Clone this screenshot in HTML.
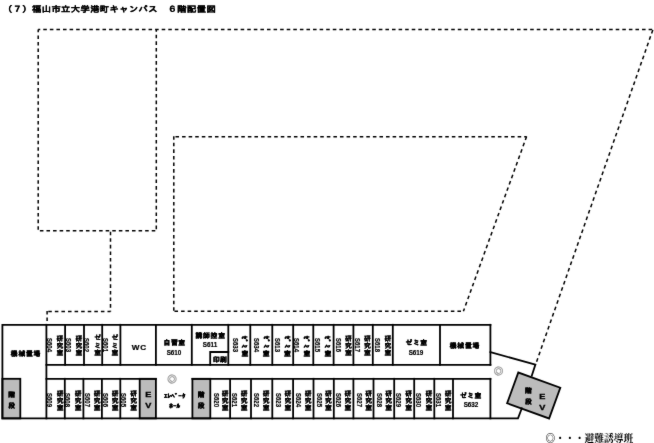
<!DOCTYPE html>
<html lang="ja"><head><meta charset="utf-8"><title>６階配置図</title><style>
html,body{margin:0;padding:0;background:#fff}
#p{filter:url(#soft);position:relative;width:654px;height:443px;overflow:hidden;background:#fff;font-family:"Liberation Sans","IPAGothic","Noto Sans CJK JP",sans-serif;color:#000}
svg{position:absolute;left:0;top:0}
.s{stroke:#000;stroke-width:1.8;fill:none;stroke-linecap:square}
.g{stroke:#000;stroke-width:1.8;fill:#bcbcbc}
.d{stroke:#000;stroke-width:1.5;fill:none}
#p div{position:absolute;white-space:nowrap;line-height:1;transform:translate(-50%,-50%)}
.v{writing-mode:vertical-rl}
.k{font-size:6.8px;font-weight:bold;letter-spacing:.4px;-webkit-text-stroke:.15px #000}
.hw{letter-spacing:1.8px;-webkit-text-stroke:.35px #000}
.c{font-size:7px;font-weight:bold;-webkit-text-stroke:.2px #000;transform:translate(-50%,-50%) scaleY(.86)!important}
.h{font-size:7px}
.b{font-size:6.8px;font-weight:bold;letter-spacing:.8px;padding-left:.8px;-webkit-text-stroke:.3px #000}
.z{letter-spacing:.5px;padding-left:.5px}
.p{letter-spacing:.2px;padding-left:.2px}
.n{font-weight:bold;-webkit-text-stroke:.2px #000;transform:translate(-50%,-50%) scaleX(.9)!important}
.wc{font-weight:bold;letter-spacing:.8px;padding-left:.8px;font-size:7.2px;-webkit-text-stroke:.2px #000;transform:translate(-50%,-50%) scaleX(1.13)!important}
.e{font-size:7.2px;font-weight:bold;-webkit-text-stroke:.3px #000;transform:translate(-50%,-50%) scaleY(.82)!important}
.st{font-size:6.8px;font-weight:bold;letter-spacing:3.7px;-webkit-text-stroke:.3px #000}
.ev{font-size:7.6px;font-weight:bold;letter-spacing:1.7px;text-orientation:upright;-webkit-text-stroke:.35px #000;transform:translate(-50%,-50%) scaleX(1.2)!important}
.ci{font-size:10.6px;color:#999;-webkit-text-stroke:.2px #999}
#t{left:3px;top:4.5px;font-size:9.3px;font-weight:bold;letter-spacing:.39px;-webkit-text-stroke:.2px #000;transform-origin:0 50%;transform:scaleY(.88)!important}
#l{left:545.4px;top:433.5px;font-size:9.75px;font-weight:bold;font-family:"Liberation Serif","Noto Serif CJK SC",serif;transform:none!important}
</style></head><body>
<div id="p">
<svg width="654" height="443" viewBox="0 0 654 443">
<defs><filter id="soft" x="0" y="0" width="100%" height="100%" color-interpolation-filters="sRGB"><feConvolveMatrix order="3" kernelMatrix="0.01 0.06 0.01 0.06 0.72 0.06 0.01 0.06 0.01" edgeMode="duplicate" preserveAlpha="true"/></filter></defs>
<line class="d" x1="38.2" y1="29.4" x2="653" y2="29.4" stroke-dasharray="3.55 3.03" stroke-dashoffset="1.52"/>
<line class="d" x1="38.2" y1="29.4" x2="38.2" y2="230.8" stroke-dasharray="3.55 3.03" stroke-dashoffset="0.6"/>
<line class="d" x1="38.2" y1="230.8" x2="156.3" y2="230.8" stroke-dasharray="3.55 3.03" stroke-dashoffset="4.9"/>
<line class="d" x1="156.3" y1="29.4" x2="156.3" y2="230.8" stroke-dasharray="3.55 3.03" stroke-dashoffset="1.2"/>
<line class="d" x1="110.5" y1="230.8" x2="110.5" y2="311.5" stroke-dasharray="3.55 3.03" stroke-dashoffset="5.67"/>
<line class="d" x1="47.1" y1="311.5" x2="110.5" y2="311.5" stroke-dasharray="3.55 3.03" stroke-dashoffset="5.42"/>
<line class="d" x1="47.1" y1="310.9" x2="47.1" y2="324" stroke-dasharray="3.55 3.03" stroke-dashoffset="0"/>
<line class="d" x1="653" y1="29.4" x2="535.6" y2="364.5" stroke-dasharray="3.7 3.12" stroke-dashoffset="6.29"/>
<line class="d" x1="173.8" y1="136.8" x2="526.6" y2="136.8" stroke-dasharray="3.55 3.03" stroke-dashoffset="4.9"/>
<line class="d" x1="526.6" y1="136.5" x2="463.4" y2="311.3" stroke-dasharray="3.65 3.12" stroke-dashoffset="0"/>
<line class="d" x1="173.8" y1="311.3" x2="463.4" y2="311.3" stroke-dasharray="3.55 3.03" stroke-dashoffset="5.9"/>
<line class="d" x1="173.8" y1="136.2" x2="173.8" y2="311.3" stroke-dasharray="3.55 3.03" stroke-dashoffset="0"/>
<rect class="g" x="2.4" y="378.8" width="17.9" height="39.6"/>
<rect class="g" x="139.7" y="378.8" width="16.2" height="39.6"/>
<rect class="g" x="192.4" y="378.8" width="17.9" height="39.6"/>
<rect class="g" x="0" y="0" width="44.7" height="32.7" transform="translate(518.3 372.5) rotate(20)"/>
<path class="s" d="M490.4 324.8 L2.4 324.8 L2.4 418.4 L518 418.4 L521.8 408.3"/>
<path class="s" d="M490.4 352.2 L535.4 364.6 L531.8 375.6"/>
<line class="s" x1="46.4" y1="324.8" x2="46.4" y2="418.4"/>
<line class="s" x1="46.4" y1="364.8" x2="490.4" y2="364.8"/>
<line class="s" x1="65.1" y1="324.8" x2="65.1" y2="364.8"/>
<line class="s" x1="84" y1="324.8" x2="84" y2="364.8"/>
<line class="s" x1="102.2" y1="324.8" x2="102.2" y2="364.8"/>
<line class="s" x1="120.4" y1="324.8" x2="120.4" y2="364.8"/>
<line class="s" x1="155.9" y1="324.8" x2="155.9" y2="364.8"/>
<line class="s" x1="191.8" y1="324.8" x2="191.8" y2="364.8"/>
<line class="s" x1="228.3" y1="324.8" x2="228.3" y2="364.8"/>
<line class="s" x1="250.3" y1="324.8" x2="250.3" y2="364.8"/>
<line class="s" x1="272.3" y1="324.8" x2="272.3" y2="364.8"/>
<line class="s" x1="293.2" y1="324.8" x2="293.2" y2="364.8"/>
<line class="s" x1="313.3" y1="324.8" x2="313.3" y2="364.8"/>
<line class="s" x1="333.6" y1="324.8" x2="333.6" y2="364.8"/>
<line class="s" x1="353.4" y1="324.8" x2="353.4" y2="364.8"/>
<line class="s" x1="372.8" y1="324.8" x2="372.8" y2="364.8"/>
<line class="s" x1="392.8" y1="324.8" x2="392.8" y2="364.8"/>
<line class="s" x1="440" y1="324.8" x2="440" y2="364.8"/>
<line class="s" x1="490.4" y1="324.8" x2="490.4" y2="364.8"/>
<path class="s" d="M210.2 364.8 L210.2 352 L228.3 352"/>
<line class="s" x1="46.4" y1="378.8" x2="155.9" y2="378.8"/>
<line class="s" x1="192.4" y1="378.8" x2="490.4" y2="378.8"/>
<line class="s" x1="64.8" y1="378.8" x2="64.8" y2="418.4"/>
<line class="s" x1="83.4" y1="378.8" x2="83.4" y2="418.4"/>
<line class="s" x1="101.9" y1="378.8" x2="101.9" y2="418.4"/>
<line class="s" x1="120.3" y1="378.8" x2="120.3" y2="418.4"/>
<line class="s" x1="230.1" y1="378.8" x2="230.1" y2="418.4"/>
<line class="s" x1="251.0" y1="378.8" x2="251.0" y2="418.4"/>
<line class="s" x1="272.3" y1="378.8" x2="272.3" y2="418.4"/>
<line class="s" x1="293.1" y1="378.8" x2="293.1" y2="418.4"/>
<line class="s" x1="313.5" y1="378.8" x2="313.5" y2="418.4"/>
<line class="s" x1="333.8" y1="378.8" x2="333.8" y2="418.4"/>
<line class="s" x1="353.4" y1="378.8" x2="353.4" y2="418.4"/>
<line class="s" x1="373.5" y1="378.8" x2="373.5" y2="418.4"/>
<line class="s" x1="394.2" y1="378.8" x2="394.2" y2="418.4"/>
<line class="s" x1="414.2" y1="378.8" x2="414.2" y2="418.4"/>
<line class="s" x1="434.3" y1="378.8" x2="434.3" y2="418.4"/>
<line class="s" x1="453.0" y1="378.8" x2="453.0" y2="418.4"/>
<line class="s" x1="490.4" y1="378.8" x2="490.4" y2="418.4"/>
</svg>
<div id="t">（７）福山市立大学港町キャンパス　６階配置図</div>
<div class="v c" style="left:49.7px;top:345.0px">S604</div>
<div class="v k" style="left:59.1px;top:345.4px">研究室</div>
<div class="v c" style="left:68.9px;top:345.0px">S603</div>
<div class="v k" style="left:77.9px;top:345.4px">研究室</div>
<div class="v c" style="left:86.8px;top:345.0px">S602</div>
<div class="v k" style="left:96.8px;top:345.4px">ゼミ室</div>
<div class="v c" style="left:105.0px;top:345.0px">S601</div>
<div class="v k" style="left:114.1px;top:345.4px">ゼミ室</div>
<div class="v c" style="left:235.6px;top:345.0px">S633</div>
<div class="v k hw" style="left:244.0px;top:346.7px">ｾﾞﾐ室</div>
<div class="v c" style="left:256.3px;top:345.0px">S634</div>
<div class="v k hw" style="left:265.2px;top:346.7px">ｾﾞﾐ室</div>
<div class="v c" style="left:277.5px;top:345.0px">S613</div>
<div class="v k hw" style="left:286.4px;top:346.7px">ｾﾞﾐ室</div>
<div class="v c" style="left:296.3px;top:345.0px">S614</div>
<div class="v k hw" style="left:306.0px;top:346.7px">ｾﾞﾐ室</div>
<div class="v c" style="left:317.3px;top:345.0px">S615</div>
<div class="v k hw" style="left:326.9px;top:346.7px">ｾﾞﾐ室</div>
<div class="v c" style="left:338.9px;top:345.0px">S616</div>
<div class="v k" style="left:347.6px;top:345.4px">研究室</div>
<div class="v c" style="left:357.1px;top:345.0px">S617</div>
<div class="v k" style="left:366.4px;top:345.4px">研究室</div>
<div class="v c" style="left:377.9px;top:345.0px">S618</div>
<div class="v k" style="left:386.9px;top:345.4px">研究室</div>
<div class="v c" style="left:49.7px;top:399.9px">S609</div>
<div class="v k" style="left:59.3px;top:399.9px">研究室</div>
<div class="v c" style="left:67.7px;top:399.9px">S608</div>
<div class="v k" style="left:77.3px;top:399.9px">研究室</div>
<div class="v c" style="left:87.9px;top:399.9px">S607</div>
<div class="v k" style="left:96.2px;top:399.9px">研究室</div>
<div class="v c" style="left:105.1px;top:399.9px">S606</div>
<div class="v k" style="left:114.2px;top:399.9px">研究室</div>
<div class="v c" style="left:123.3px;top:399.9px">S605</div>
<div class="v k" style="left:132.7px;top:399.9px">研究室</div>
<div class="v c" style="left:216.4px;top:399.9px">S620</div>
<div class="v k" style="left:224.3px;top:399.9px">研究室</div>
<div class="v c" style="left:234.1px;top:399.9px">S621</div>
<div class="v k" style="left:243.3px;top:399.9px">研究室</div>
<div class="v c" style="left:256.6px;top:399.9px">S622</div>
<div class="v k" style="left:265.2px;top:399.9px">研究室</div>
<div class="v c" style="left:278.2px;top:399.9px">S623</div>
<div class="v k" style="left:287.0px;top:399.9px">研究室</div>
<div class="v c" style="left:298.3px;top:399.9px">S624</div>
<div class="v k" style="left:307.2px;top:399.9px">研究室</div>
<div class="v c" style="left:319.3px;top:399.9px">S625</div>
<div class="v k" style="left:327.4px;top:399.9px">研究室</div>
<div class="v c" style="left:338.5px;top:399.9px">S626</div>
<div class="v k" style="left:347.0px;top:399.9px">研究室</div>
<div class="v c" style="left:359.2px;top:399.9px">S627</div>
<div class="v k" style="left:367.8px;top:399.9px">研究室</div>
<div class="v c" style="left:379.1px;top:399.9px">S628</div>
<div class="v k" style="left:387.8px;top:399.9px">研究室</div>
<div class="v c" style="left:398.4px;top:399.9px">S629</div>
<div class="v k" style="left:407.8px;top:399.9px">研究室</div>
<div class="v c" style="left:418.7px;top:399.9px">S630</div>
<div class="v k" style="left:428.0px;top:399.9px">研究室</div>
<div class="v c" style="left:438.0px;top:399.9px">S631</div>
<div class="v k" style="left:447.2px;top:399.9px">研究室</div>
<div class="h b" style="left:25.6px;top:353.9px">機械置場</div>
<div class="h wc" style="left:139.2px;top:347.9px">WC</div>
<div class="h b z" style="left:174.3px;top:343.2px">自習室</div>
<div class="h n" style="left:174.3px;top:352.2px">S610</div>
<div class="h b" style="left:210.2px;top:335.8px">講師控室</div>
<div class="h n" style="left:210.2px;top:344.4px">S611</div>
<div class="h b p" style="left:219.8px;top:360.1px">印刷</div>
<div class="h b z" style="left:416.3px;top:342.5px">ゼミ室</div>
<div class="h n" style="left:416.3px;top:352.2px">S619</div>
<div class="h b" style="left:464.5px;top:346.1px">機械置場</div>
<div class="h b z" style="left:470.6px;top:395.8px">ゼミ室</div>
<div class="h n" style="left:471.1px;top:404.3px">S632</div>
<div class="h e" style="left:174.7px;top:395.7px">ｴﾚﾍﾞｰﾀ</div>
<div class="h e" style="left:174.7px;top:405.8px">ﾎｰﾙ</div>
<div class="v st" style="left:10.8px;top:401.1px">階段</div>
<div class="v st" style="left:200.3px;top:401.0px">階段</div>
<div class="v ev" style="left:148px;top:400.9px">EV</div>
<div class="v st" style="left:527.6px;top:397.3px">階段</div>
<div class="v ev" style="left:541.9px;top:403px">EV</div>
<div class="h ci" style="left:172.1px;top:378.9px">◎</div>
<div class="h ci" style="left:498.5px;top:371.2px">◎</div>
<div id="l">◎・・・避難誘導班</div>
</div>
</body></html>
